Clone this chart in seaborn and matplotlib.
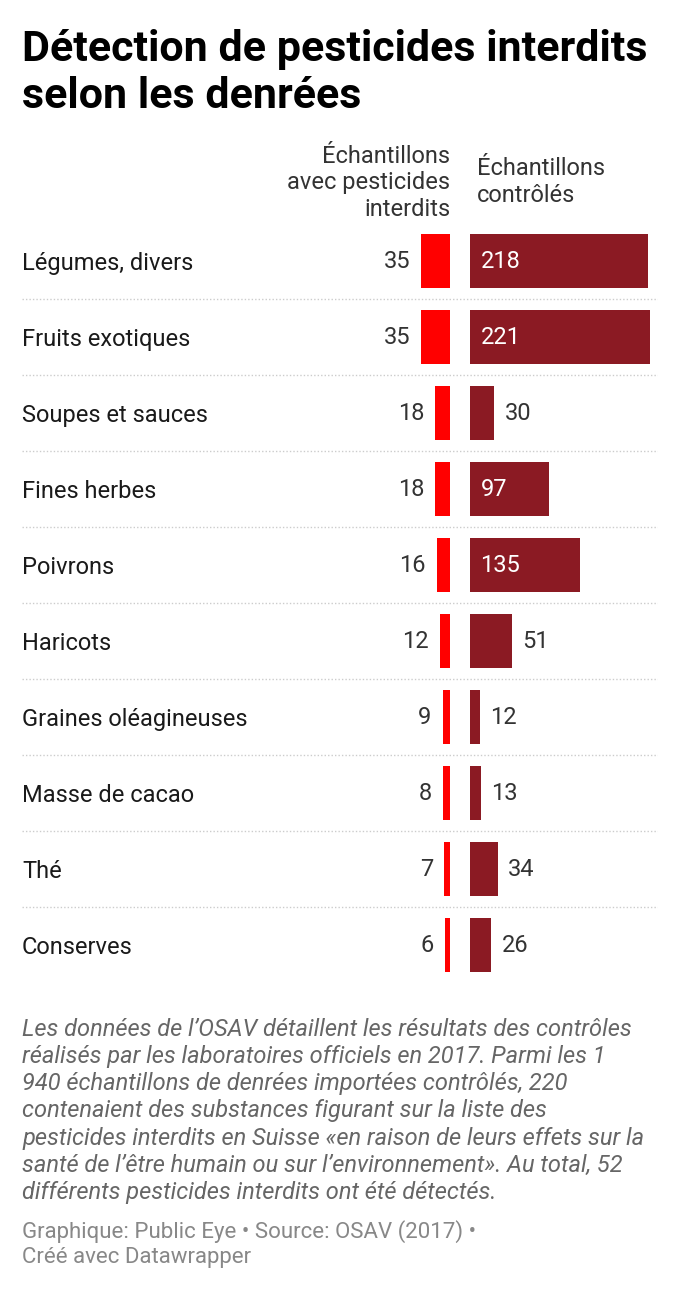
import matplotlib
matplotlib.use("Agg")
import matplotlib.pyplot as plt
import seaborn as sns

categories = ["Légumes, divers", "Fruits exotiques", "Soupes et sauces", "Fines herbes",
              "Poivrons", "Haricots", "Graines oléagineuses", "Masse de cacao", "Thé", "Conserves"]
interdits = [35, 35, 18, 18, 16, 12, 9, 8, 7, 6]
controles = [218, 221, 30, 97, 135, 51, 12, 13, 34, 26]

W, H = 680, 1298
RED = "#ff0000"
DARK = "#8b1a23"
TXT = "#333333"
SCALE = 0.815  # px per unit

sns.set_theme(style="white")
plt.rcParams["font.family"] = ["Roboto", "DejaVu Sans"]

fig = plt.figure(figsize=(W / 100, H / 100), dpi=100)


def rect(x0, y0, x1, y1):
    return [x0 / W, 1 - y1 / H, (x1 - x0) / W, (y1 - y0) / H]


def ftext(x, y, s, **kw):
    fig.text(x / W, 1 - y / H, s, **kw)


top, bottom = 223, 983
n = len(categories)

# background: category names and dotted separators
ax_bg = fig.add_axes(rect(22, top, 658, bottom))
ax_bg.set_xlim(0, 1)
ax_bg.set_ylim(n - 0.5, -0.5)
ax_bg.axis("off")
for i, c in enumerate(categories):
    ax_bg.annotate(c, xy=(0, i), xytext=(0, -2), textcoords="offset points",
                   ha="left", va="center", fontsize=17, color="#1a1a1a")
for i in range(n - 1):
    ax_bg.axhline(i + 0.5, color="#cccccc", lw=1, ls=(0, (1, 1.5)))

# left bars (banned pesticides)
lw_px = 110
ax_l = fig.add_axes(rect(450 - lw_px, top, 450, bottom))
sns.barplot(x=interdits, y=categories, orient="h", color=RED, saturation=1,
            width=0.71, linewidth=0, ax=ax_l)
ax_l.set_xlim(lw_px / SCALE, 0)
ax_l.set_ylim(n - 0.5, -0.5)
ax_l.axis("off")
for i, v in enumerate(interdits):
    ax_l.annotate(str(v), xy=(v, i), xytext=(-8, 0), textcoords="offset points",
                  ha="right", va="center", fontsize=17, color=TXT)

# right bars (controlled samples)
rw_px = 200
ax_r = fig.add_axes(rect(470, top, 470 + rw_px, bottom))
sns.barplot(x=controles, y=categories, orient="h", color=DARK, saturation=1,
            width=0.71, linewidth=0, ax=ax_r)
ax_r.set_xlim(0, rw_px / SCALE)
ax_r.set_ylim(n - 0.5, -0.5)
ax_r.axis("off")
for i, v in enumerate(controles):
    if v > 80:
        ax_r.annotate(str(v), xy=(0, i), xytext=(7.5, 0), textcoords="offset points",
                      ha="left", va="center", fontsize=17, color="white")
    else:
        ax_r.annotate(str(v), xy=(v, i), xytext=(7.5, 0), textcoords="offset points",
                      ha="left", va="center", fontsize=17, color=TXT)

# title
ftext(22, 50, "Détection de pesticides interdits", fontsize=31, fontweight="bold",
      color="#000000", va="center", ha="left")
ftext(22, 97, "selon les denrées", fontsize=31, fontweight="bold",
      color="#000000", va="center", ha="left")

# column headers
ftext(450, 183, "Échantillons\navec pesticides\ninterdits", fontsize=17, color=TXT,
      ha="right", va="center", linespacing=1.17)
ftext(477, 182, "Échantillons\ncontrôlés", fontsize=17, color=TXT,
      ha="left", va="center", linespacing=1.17)

# note
note = ("Les données de l’OSAV détaillent les résultats des contrôles\n"
        "réalisés par les laboratoires officiels en 2017. Parmi les 1\n"
        "940 échantillons de denrées importées contrôlés, 220\n"
        "contenaient des substances figurant sur la liste des\n"
        "pesticides interdits en Suisse «en raison de leurs effets sur la\n"
        "santé de l’être humain ou sur l’environnement». Au total, 52\n"
        "différents pesticides interdits ont été détectés.")
ftext(22, 1111, note, fontsize=17, style="italic", color="#666666",
      ha="left", va="center", linespacing=1.23)

ftext(22, 1244, "Graphique: Public Eye • Source: OSAV (2017) •\nCréé avec Datawrapper",
      fontsize=16, color="#888888", ha="left", va="center", linespacing=1.27)

fig.savefig("out.png", dpi=100, facecolor="white")
